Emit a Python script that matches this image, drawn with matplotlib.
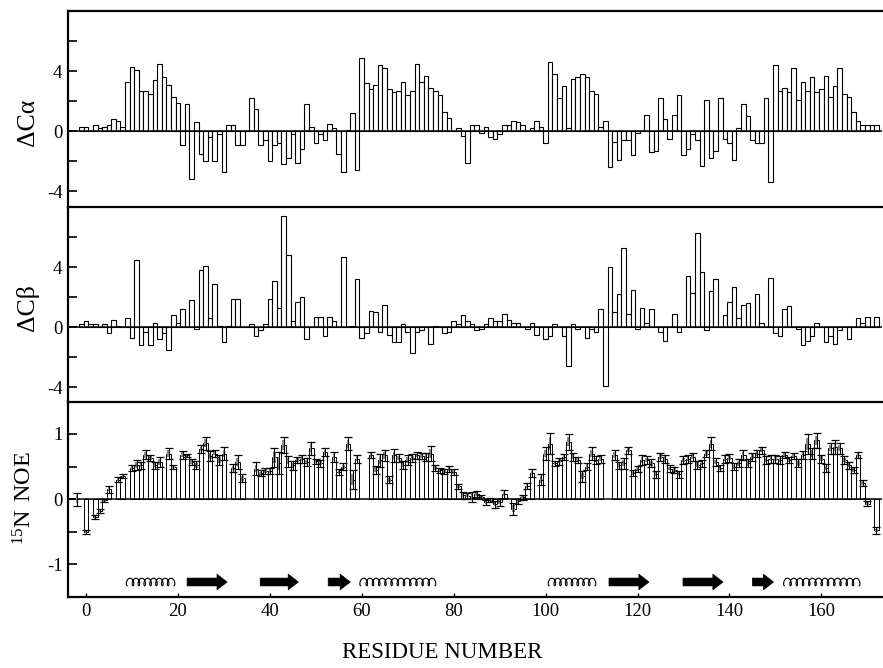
import numpy as np
import matplotlib
matplotlib.use("Agg")
import matplotlib.pyplot as plt

nan = float("nan")

# ---------------- data ----------------
res_c = list(range(-1, 173))          # residues for chemical-shift panels
d_ca = [
    0.3, 0.3, 0.0, 0.4, 0.2, 0.3, 0.4, 0.8, 0.7, 0.3,
    3.3, 4.3, 4.1, 2.7, 2.7, 2.5, 3.4, 4.5, 3.6, 3.1,
    2.3, 1.9, -0.9, 1.8, -3.2, 0.6, -1.5, -2.0, -0.4, -2.0,
    -0.2, -2.7, 0.4, 0.4, -0.9, -0.9, 0.0, 2.2, 1.5, -0.9,
    -0.6, -2.0, -0.9, -0.8, -2.2, -1.8, -0.2, -2.1, -1.2, 1.8,
    0.3, -0.8, -0.2, -0.6, 0.5, 0.2, -1.5, -2.7, 0.05, 1.2,
    -2.6, 4.9, 3.2, 2.8, 3.1, 4.4, 4.2, 2.8, 2.6, 2.7,
    3.3, 2.4, 2.7, 4.5, 3.3, 3.7, 2.9, 2.7, 2.4, 1.3,
    0.9, 0.0, 0.2, -0.3, -2.1, 0.4, 0.4, -0.1, 0.3, -0.4,
    -0.5, -0.2, 0.4, 0.4, 0.7, 0.6, 0.4, 0.0, 0.2, 0.7,
    0.3, -0.8, 4.6, 3.8, 2.2, 3.0, 0.2, 3.5, 3.6, 3.8,
    3.6, 2.7, 2.5, 0.3, 0.7, -2.4, -0.7, -1.9, -0.6, -0.6,
    -1.6, -0.1, 0.0, 1.1, -1.4, -1.3, 2.2, 0.8, -0.5, 1.1,
    2.4, -1.6, -1.2, -0.2, -0.6, -2.3, 2.1, -1.8, -1.3, 2.2,
    -0.5, -0.8, -1.9, 0.2, 1.8, 1.0, -0.6, -0.8, -0.8, 2.2,
    -3.4, 4.4, 2.7, 2.9, 2.6, 4.2, 2.1, 3.3, 2.7, 3.6,
    2.6, 2.8, 3.7, 2.3, 3.0, 4.2, 2.5, 2.3, 1.3, 0.7,
    0.4, 0.4, 0.4, 0.4,
]
d_cb = [
    0.2, 0.4, 0.2, 0.2, 0.0, 0.2, -0.4, 0.5, 0.1, 0.0,
    0.6, -0.7, 4.5, -1.2, -0.3, -1.2, 0.3, -0.8, -0.4, -1.5,
    0.8, 0.3, 1.2, 0.0, 1.8, -0.1, 3.8, 4.1, 0.6, 2.9,
    0.1, -1.0, 0.1, 1.9, 1.9, 0.0, 0.0, 0.2, -0.6, -0.2,
    0.2, 1.9, 3.1, 1.3, 7.4, 4.8, 0.4, 1.7, 2.0, -0.8,
    0.0, 0.7, 0.7, -0.6, 0.7, 0.4, 0.0, 4.7, 0.0, 0.1,
    3.2, -0.7, -0.4, 1.1, 1.0, -0.3, 1.5, -0.5, -1.0, -1.0,
    0.2, -0.3, -1.7, -0.3, -0.2, 0.0, -1.1, 0.1, 0.0, -0.4,
    -0.3, 0.4, 0.2, 0.8, 0.4, 0.2, -0.2, -0.1, 0.2, 0.6,
    0.4, 0.4, 0.9, 0.5, 0.3, 0.3, 0.0, -0.1, 0.3, -0.5,
    0.0, -0.8, -0.6, 0.2, 0.0, -0.6, -2.6, 0.2, -0.1, 0.0,
    -0.7, -0.1, -0.3, 1.2, -3.9, 4.0, 1.0, 2.2, 5.3, 0.9,
    2.5, -0.1, 1.3, 0.3, 1.2, 0.0, -0.3, -0.9, 0.0, 0.9,
    -0.3, 0.0, 3.4, 2.3, 6.3, 3.7, -0.2, 2.4, 3.2, 0.0,
    0.8, 1.7, 2.7, 0.6, 1.5, 1.6, 0.0, 2.2, 0.3, 0.0,
    3.3, -0.4, -0.6, 1.2, 1.4, 0.0, -0.1, -1.2, -0.9, -0.6,
    0.3, 0.0, -1.0, -0.6, -1.1, -0.2, 0.0, -0.8, 0.0, 0.6,
    0.3, 0.7, 0.0, 0.7,
]

res_n = list(range(-2, 173))          # residues for NOE panel
noe = [
    0.0, nan, -0.5, nan, -0.28, -0.18, -0.02, 0.15, nan, 0.30,
    0.35, nan, 0.48, 0.52, 0.52, 0.68, 0.63, 0.52, 0.57, nan,
    0.70, 0.50, nan, 0.68, 0.67, 0.57, 0.52, 0.77, 0.86, 0.66,
    0.70, 0.60, 0.70, nan, 0.48, 0.57, 0.32, nan, nan, 0.47,
    0.40, 0.43, 0.43, 0.64, 0.55, 0.83, 0.58, 0.52, 0.60, 0.62,
    0.57, 0.78, 0.58, 0.55, 0.72, nan, 0.65, 0.42, 0.50, 0.85,
    0.30, 0.62, nan, nan, 0.68, 0.45, 0.60, 0.67, 0.30, 0.67,
    0.63, 0.53, 0.60, 0.63, 0.67, 0.66, 0.65, 0.70, 0.48, 0.44,
    0.42, 0.46, 0.42, 0.20, 0.06, 0.05, 0.03, 0.08, 0.03, -0.05,
    -0.01, -0.08, -0.05, 0.08, nan, -0.15, -0.03, 0.03, 0.20, 0.40,
    nan, 0.30, 0.70, 0.85, 0.55, 0.58, 0.65, 0.88, 0.65, 0.60,
    0.35, 0.50, 0.70, 0.60, 0.62, nan, nan, 0.68, 0.52, 0.55,
    0.75, 0.40, 0.46, 0.60, 0.60, 0.55, 0.38, 0.65, 0.62, 0.47,
    0.45, 0.38, 0.60, 0.62, 0.65, 0.53, 0.55, 0.70, 0.85, 0.57,
    0.48, 0.62, 0.63, 0.50, 0.55, 0.68, 0.55, 0.65, 0.70, 0.75,
    0.60, 0.62, 0.62, 0.60, 0.68, 0.60, 0.66, 0.55, 0.68, 0.85,
    0.70, 0.90, 0.62, 0.48, 0.78, 0.80, 0.78, 0.60, 0.52, 0.45,
    0.68, 0.25, -0.07, nan, -0.48,
]
noe_err = [
    0.10, nan, 0.03, nan, 0.03, 0.03, 0.03, 0.05, nan, 0.04,
    0.03, nan, 0.05, 0.08, 0.05, 0.07, 0.05, 0.05, 0.08, nan,
    0.08, 0.03, nan, 0.06, 0.03, 0.05, 0.06, 0.06, 0.10, 0.08,
    0.05, 0.08, 0.10, nan, 0.06, 0.10, 0.06, nan, nan, 0.10,
    0.04, 0.05, 0.05, 0.15, 0.17, 0.12, 0.08, 0.07, 0.05, 0.06,
    0.06, 0.10, 0.04, 0.05, 0.06, nan, 0.08, 0.05, 0.05, 0.10,
    0.15, 0.06, nan, nan, 0.05, 0.06, 0.10, 0.08, 0.05, 0.10,
    0.06, 0.06, 0.08, 0.06, 0.05, 0.05, 0.06, 0.12, 0.05, 0.04,
    0.04, 0.05, 0.05, 0.04, 0.05, 0.04, 0.08, 0.05, 0.03, 0.04,
    0.03, 0.05, 0.05, 0.06, nan, 0.09, 0.04, 0.04, 0.05, 0.06,
    nan, 0.08, 0.10, 0.16, 0.04, 0.05, 0.05, 0.12, 0.06, 0.05,
    0.08, 0.06, 0.10, 0.06, 0.06, nan, nan, 0.08, 0.05, 0.08,
    0.05, 0.05, 0.05, 0.07, 0.06, 0.06, 0.05, 0.06, 0.06, 0.05,
    0.05, 0.05, 0.06, 0.06, 0.06, 0.06, 0.05, 0.06, 0.10, 0.06,
    0.05, 0.06, 0.06, 0.05, 0.06, 0.08, 0.06, 0.06, 0.06, 0.05,
    0.06, 0.06, 0.06, 0.06, 0.05, 0.05, 0.05, 0.06, 0.06, 0.15,
    0.08, 0.12, 0.06, 0.06, 0.08, 0.10, 0.08, 0.06, 0.05, 0.05,
    0.05, 0.05, 0.04, nan, 0.05,
]

# secondary structure (residue ranges)
helix_start = [8.5, 59.3, 100.3, 151.5]
helix_end = [19.6, 76.4, 111.2, 168.7]
helix_turns = [8, 12, 8, 12]
strand_start = [22.0, 37.9, 52.7, 113.8, 129.9, 145.0]
strand_end = [30.7, 46.2, 57.5, 122.5, 138.6, 149.6]

x_ticks = [0, 20, 40, 60, 80, 100, 120, 140, 160]

# ---------------- style ----------------
plt.rcParams["font.family"] = ["Liberation Serif", "DejaVu Serif"]
plt.rcParams["mathtext.fontset"] = "custom"
plt.rcParams["mathtext.rm"] = "Liberation Serif"

W, H = 883, 668
fig = plt.figure(figsize=(W / 100, H / 100), dpi=100)


def rect(top, bottom, left=68, right=882):
    return [left / W, 1 - bottom / H, (right - left) / W, (bottom - top) / H]


ax1 = fig.add_axes(rect(11, 207))
ax2 = fig.add_axes(rect(207, 402))
ax3 = fig.add_axes(rect(402, 597))

XL = (-3.92, 173.2)

for ax in (ax1, ax2, ax3):
    ax.set_xlim(*XL)
    ax.spines["right"].set_visible(False)
    for s in ("top", "left", "bottom"):
        ax.spines[s].set_linewidth(1.6)
    ax.axhline(0, color="k", lw=1.1, zorder=3)
    ax.tick_params(axis="y", direction="in", length=6.5, width=1.2,
                   labelsize=13.5, pad=4)

for ax in (ax1, ax2):
    ax.spines["bottom"].set_visible(False)
    ax.set_xticks([])

# chemical-shift panels
ax1.bar(res_c, d_ca, width=1.0, facecolor="white", edgecolor="k", lw=0.8, zorder=2)
ax2.bar(res_c, d_cb, width=1.0, facecolor="white", edgecolor="k", lw=0.8, zorder=2)
ax1.set_ylim(-5.05, 8.0)
ax2.set_ylim(-5.0, 8.0)
for ax in (ax1, ax2):
    ax.set_yticks([-4, -2, 0, 2, 4, 6])
    ax.set_yticklabels(["-4", "", "0", "", "4", ""])

# NOE panel
rn = np.array(res_n, dtype=float)
vn = np.array(noe, dtype=float)
en = np.array(noe_err, dtype=float)
m = np.isfinite(vn)
ax3.bar(rn[m], vn[m], width=1.0, facecolor="white", edgecolor="k", lw=0.7, zorder=2)
ax3.bar(rn[m], 1.2 * en[m], bottom=vn[m] - 0.6 * en[m], width=0.55,
        color="#8a8a8a", lw=0, zorder=3)
ax3.errorbar(rn[m], vn[m], yerr=en[m], fmt="none", ecolor="k",
             elinewidth=0.8, capsize=2.6, capthick=0.9, zorder=4)
ax3.set_ylim(-1.5, 1.49)
ax3.set_yticks([-1, -0.5, 0, 0.5, 1])
ax3.set_yticklabels(["-1", "", "0", "", "1"])
ax3.set_xticks(x_ticks)
ax3.set_xticklabels([str(t) for t in x_ticks])
ax3.tick_params(axis="x", direction="in", length=3, width=1.0,
                labelsize=13.5, pad=4)

# secondary structure symbols
ss_y = -1.27
for xs, xe, n in zip(helix_start, helix_end, helix_turns):
    a = 0.45
    t = np.linspace(0, 2 * np.pi * n, 60 * n)
    R = (xe - xs - 2 * a) / (2 * np.pi * n)
    hx = xs + a + R * t - a * np.sin(t)
    hy = ss_y - 0.058 * np.cos(t)
    ax3.plot(hx, hy, color="k", lw=0.8, zorder=5)
for xs, xe in zip(strand_start, strand_end):
    ax3.arrow(xs, ss_y, xe - xs, 0, width=0.12, head_width=0.24,
              head_length=2.2, length_includes_head=True,
              fc="k", ec="k", lw=0.5, zorder=5)

# labels
fig.text(28 / W, 1 - 122 / H, "ΔCα", rotation=90, ha="center", va="center",
         fontsize=18.5)
fig.text(28 / W, 1 - 308 / H, "ΔCβ", rotation=90, ha="center", va="center",
         fontsize=18.5)
fig.text(25 / W, 1 - 498 / H, r"$\mathregular{^{15}N\ NOE}$", rotation=90,
         ha="center", va="center", fontsize=17.5)
fig.text(442 / W, 1 - 653 / H, "RESIDUE NUMBER", ha="center", va="center",
         fontsize=16.5)

fig.savefig("out.png", dpi=100)
